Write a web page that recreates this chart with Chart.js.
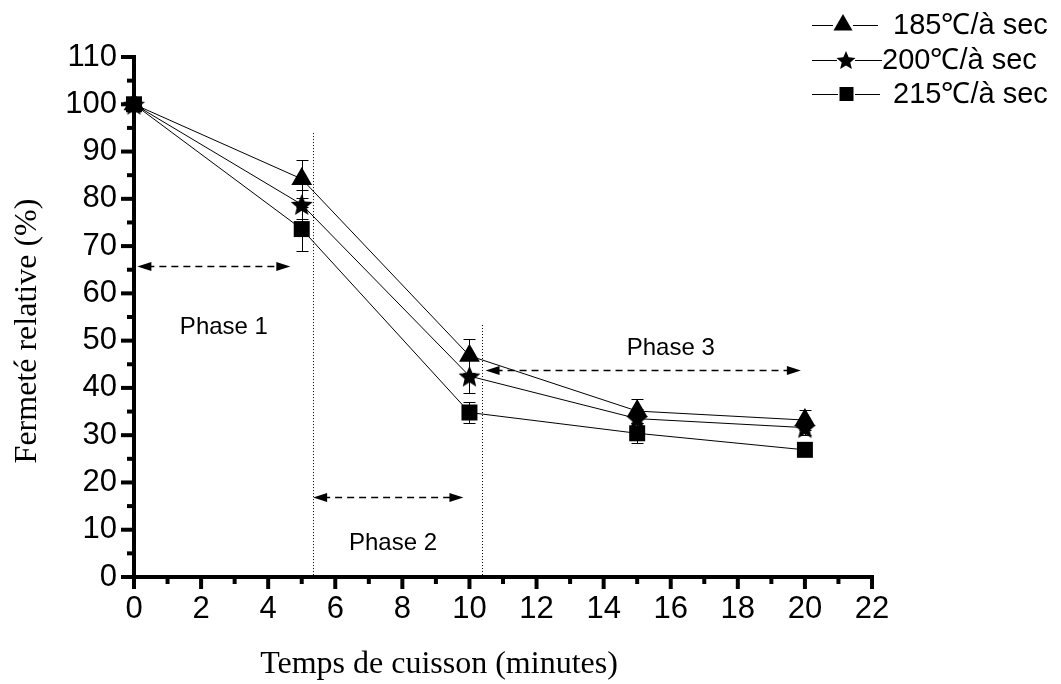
<!DOCTYPE html>
<html><head><meta charset="utf-8">
<script src="https://cdn.jsdelivr.net/npm/chart.js@4/dist/chart.umd.min.js"></script>
<style>html,body{margin:0;padding:0;background:#fff}canvas{display:block}</style>
</head><body>
<canvas id="c" width="1061" height="684"></canvas>
<script>
// ---- data ----
const times = [0, 5, 10, 15, 20];
const seriesNames = ['185℃/à sec', '200℃/à sec', '215℃/à sec'];
const series185 = [100, 84.2, 46.8, 35.1, 33.2];
const series200 = [100, 78.8, 42.5, 33.5, 31.6];
const series215 = [100, 73.6, 34.8, 30.4, 26.9];
const err185 = [0, 4.0, 3.6, 2.6, 2.2];
const err200 = [0, 3.0, 3.5, 2.0, 1.5];
const err215 = [0, 4.6, 2.2, 2.1, 1.0];
const xTickLabels = [0, 2, 4, 6, 8, 10, 12, 14, 16, 18, 20, 22];
const yTickLabels = [0, 10, 20, 30, 40, 50, 60, 70, 80, 90, 100, 110];
const xTitle = 'Temps de cuisson (minutes)';
const yTitle = 'Fermeté relative (%)';
const phaseNames = ['Phase 1', 'Phase 2', 'Phase 3'];
// annotation anchors in data units
const phaseLabelPos = [[2.68, 52.7], [7.72, 7.2], [16.0, 48.4]];
const phaseArrows = [[0.1, 4.66, 65.8], [5.34, 9.82, 17.0], [10.48, 19.88, 43.8]];
const phaseBounds = [[5.34, 93.9], [10.36, 53.3]];

const SANS = '"Liberation Sans", Arial, sans-serif';
const SERIF = '"Liberation Serif", "Times New Roman", serif';

function starCanvas(R) {
  const c = document.createElement('canvas');
  const s = Math.ceil(R * 2 + 2);
  c.width = s; c.height = s;
  const g = c.getContext('2d');
  drawStar(g, s / 2, s / 2 + R * 0.1, R);
  return c;
}
function drawStar(g, cx, cy, R) {
  const r = R * 0.45;
  g.beginPath();
  for (let i = 0; i < 10; i++) {
    const a = -Math.PI / 2 + i * Math.PI / 5;
    const rr = i % 2 === 0 ? R : r;
    const px = cx + rr * Math.cos(a), py = cy + rr * Math.sin(a);
    i === 0 ? g.moveTo(px, py) : g.lineTo(px, py);
  }
  g.closePath(); g.fillStyle = '#000'; g.fill();
}
const starImg = starCanvas(11.5);

const mk = (vals) => times.map((t, i) => ({x: t, y: vals[i]}));
const errs = [err185, err200, err215];

const axesPlugin = {
  id: 'axesDraw',
  beforeDatasetsDraw(chart) {
    const {ctx, scales: {x, y}} = chart;
    const x0 = x.getPixelForValue(0), y0 = y.getPixelForValue(0);
    ctx.save();
    ctx.strokeStyle = '#000';
    // phase boundaries (dotted)
    ctx.lineWidth = 1; ctx.setLineDash([1, 2]);
    phaseBounds.forEach(([xv, top]) => {
      const px = Math.round(x.getPixelForValue(xv)) + 0.5;
      ctx.beginPath(); ctx.moveTo(px, y.getPixelForValue(top)); ctx.lineTo(px, y0); ctx.stroke();
    });
    ctx.setLineDash([]);
    // error bars
    chart.data.datasets.forEach((ds, di) => {
      ds.data.forEach((p, i) => {
        const e = errs[di][i];
        if (!e) return;
        const px = Math.round(x.getPixelForValue(p.x)) + 0.5;
        const yt = Math.round(y.getPixelForValue(p.y + e)) + 0.5;
        const yb = Math.round(y.getPixelForValue(p.y - e)) + 0.5;
        ctx.lineWidth = 1;
        ctx.beginPath();
        ctx.moveTo(px, yt); ctx.lineTo(px, yb);
        ctx.moveTo(px - 6, yt); ctx.lineTo(px + 6, yt);
        ctx.moveTo(px - 6, yb); ctx.lineTo(px + 6, yb);
        ctx.stroke();
      });
    });
    // arrows
    phaseArrows.forEach(([a, b, v]) => {
      const xa = x.getPixelForValue(a), xb = x.getPixelForValue(b), py = Math.round(y.getPixelForValue(v)) + 0.5;
      ctx.lineWidth = 1.5; ctx.setLineDash([7, 5]);
      ctx.beginPath(); ctx.moveTo(xa + 10, py); ctx.lineTo(xb - 10, py); ctx.stroke();
      ctx.setLineDash([]);
      ctx.fillStyle = '#000';
      ctx.beginPath(); ctx.moveTo(xa, py); ctx.lineTo(xa + 14, py - 4.5); ctx.lineTo(xa + 14, py + 4.5); ctx.closePath(); ctx.fill();
      ctx.beginPath(); ctx.moveTo(xb, py); ctx.lineTo(xb - 14, py - 4.5); ctx.lineTo(xb - 14, py + 4.5); ctx.closePath(); ctx.fill();
    });
    // axes
    ctx.lineWidth = 4;
    const yTop = y.getPixelForValue(110), xEnd = x.getPixelForValue(22);
    ctx.beginPath(); ctx.moveTo(x0, yTop - 2); ctx.lineTo(x0, y0 + 2); ctx.stroke();
    ctx.beginPath(); ctx.moveTo(x0 - 2, y0); ctx.lineTo(xEnd + 2, y0); ctx.stroke();
    for (let v = 0; v <= 22; v++) {
      const px = x.getPixelForValue(v), len = v % 2 === 0 ? 12 : 7;
      ctx.beginPath(); ctx.moveTo(px, y0); ctx.lineTo(px, y0 + len); ctx.stroke();
    }
    for (let v = 0; v <= 110; v += 5) {
      const py = y.getPixelForValue(v), len = v % 10 === 0 ? 13 : 7;
      ctx.beginPath(); ctx.moveTo(x0, py); ctx.lineTo(x0 - len, py); ctx.stroke();
    }
    ctx.restore();
  },
  afterDraw(chart) {
    const {ctx, scales: {x, y}} = chart;
    ctx.save();
    ctx.fillStyle = '#000';
    // phase labels
    ctx.font = '24px ' + SANS; ctx.textAlign = 'center'; ctx.textBaseline = 'middle';
    phaseNames.forEach((n, i) => {
      ctx.fillText(n, x.getPixelForValue(phaseLabelPos[i][0]), y.getPixelForValue(phaseLabelPos[i][1]));
    });
    // axis titles
    ctx.font = '32px ' + SERIF;
    ctx.fillText(xTitle, 439, 665);
    ctx.save(); ctx.translate(28, 331); ctx.rotate(-Math.PI / 2); ctx.fillText(yTitle, 0, 0); ctx.restore();
    // legend
    ctx.font = '29px ' + SANS; ctx.textAlign = 'left';
    const rows = [
      {y: 25, l1: [812, 833], l2: [853, 878], mx: 843, tx: 893},
      {y: 60, l1: [812, 837], l2: [855, 882], mx: 846, tx: 882},
      {y: 94, l1: [812, 838], l2: [855, 880], mx: 846.5, tx: 893}
    ];
    rows.forEach((r, i) => {
      ctx.lineWidth = 1; ctx.strokeStyle = '#000';
      ctx.beginPath();
      ctx.moveTo(r.l1[0], r.y + 0.5); ctx.lineTo(r.l1[1], r.y + 0.5);
      ctx.moveTo(r.l2[0], r.y + 0.5); ctx.lineTo(r.l2[1], r.y + 0.5);
      ctx.stroke();
      ctx.beginPath();
      if (i === 0) {
        const R = 11;
        ctx.moveTo(r.mx, r.y - R); ctx.lineTo(r.mx + R * 0.866, r.y + R / 2); ctx.lineTo(r.mx - R * 0.866, r.y + R / 2); ctx.closePath(); ctx.fill();
      } else if (i === 1) {
        drawStar(ctx, r.mx, r.y + 1, 10);
      } else {
        ctx.rect(r.mx - 7, r.y - 7, 14, 14); ctx.fill();
      }
      ctx.fillText(seriesNames[i], r.tx, r.y + 1);
    });
    ctx.restore();
  }
};

const tickFont = {family: SANS, size: 31};

new Chart(document.getElementById('c'), {
  type: 'line',
  data: {
    datasets: [
      {label: seriesNames[0], data: mk(series185), pointStyle: 'triangle', pointRadius: 12},
      {label: seriesNames[1], data: mk(series200), pointStyle: starImg, pointRadius: 11},
      {label: seriesNames[2], data: mk(series215), pointStyle: 'rect', pointRadius: 11.3}
    ].map(d => Object.assign(d, {
      borderColor: '#000', backgroundColor: '#000', borderWidth: 1,
      pointBackgroundColor: '#000', pointBorderColor: '#000', pointBorderWidth: 0,
      tension: 0, clip: false, fill: false
    }))
  },
  options: {
    responsive: false, animation: false, devicePixelRatio: 1,
    layout: {padding: {top: 57, right: 189, left: 0, bottom: 0}},
    plugins: {legend: {display: false}, tooltip: {enabled: false}},
    scales: {
      x: {
        type: 'linear', min: 0, max: 22,
        afterFit(s) { s.height = 107; },
        afterBuildTicks(s) { s.ticks = xTickLabels.map(v => ({value: v})); },
        grid: {display: false, drawTicks: false}, border: {display: false},
        ticks: {font: tickFont, color: '#000', padding: 14, maxRotation: 0, autoSkip: false}
      },
      y: {
        type: 'linear', min: 0, max: 110,
        afterFit(s) { s.width = 134; },
        afterBuildTicks(s) { s.ticks = yTickLabels.map(v => ({value: v})); },
        grid: {display: false, drawTicks: false}, border: {display: false},
        ticks: {font: tickFont, color: '#000', padding: 17, autoSkip: false}
      }
    }
  },
  plugins: [axesPlugin]
});
</script>
</body></html>
